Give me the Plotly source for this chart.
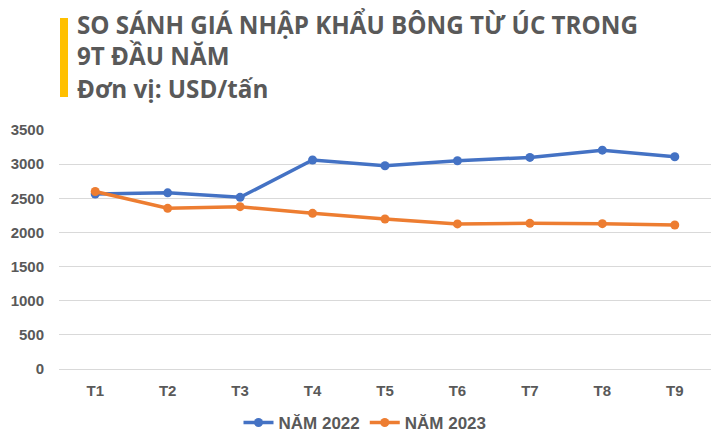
import plotly.graph_objects as go

months = ["T1", "T2", "T3", "T4", "T5", "T6", "T7", "T8", "T9"]
y2022 = [2562, 2580, 2514, 3060, 2977, 3050, 3099, 3205, 3108]
y2023 = [2600, 2353, 2377, 2280, 2196, 2125, 2133, 2128, 2108]
yticks = [0, 500, 1000, 1500, 2000, 2500, 3000, 3500]

# page body has an 8px margin: figure sits at (8, 8) in the window
OFF = 8
W, H = 727 - OFF, 434 - OFF
L, R, T, B = 59 - OFF, 16, 130 - OFF, 65
PW, PH = W - L - R, H - T - B


def px_x(x):
    return (x - OFF - L) / PW


def px_y(y):
    return (H - B - (y - OFF)) / PH


fig = go.Figure()
fig.add_trace(go.Scatter(x=months, y=y2022, name="NĂM 2022", mode="lines+markers",
                         line=dict(color="#4472C4", width=3.5),
                         marker=dict(size=9, color="#4472C4")))
fig.add_trace(go.Scatter(x=months, y=y2023, name="NĂM 2023", mode="lines+markers",
                         line=dict(color="#ED7D31", width=3.5),
                         marker=dict(size=9, color="#ED7D31")))

title_font = dict(family="Open Sans", size=24.2, color="#595959", weight="bold")

fig.update_layout(
    width=W, height=H,
    margin=dict(l=L, r=R, t=T, b=B),
    paper_bgcolor="white", plot_bgcolor="white",
    font=dict(family="Open Sans", color="#595959"),
    showlegend=True,
    legend=dict(orientation="h", x=(365 - OFF) / W, xanchor="center", xref="container",
                y=(H - (423 - OFF)) / H, yanchor="middle", yref="container",
                font=dict(family="Liberation Sans", size=17, color="#595959", weight="bold"),
                itemwidth=30),
    xaxis=dict(showgrid=False, showline=True, linecolor="#D9D9D9", linewidth=1,
               ticks="", automargin=False, ticklabelstandoff=8,
               tickfont=dict(family="Liberation Sans", size=15, color="#595959", weight="bold"),
               range=[-0.5, 8.5]),
    yaxis=dict(range=[0, 3500], tickvals=yticks, showgrid=True, gridcolor="#D9D9D9",
               zeroline=False, ticks="", ticklabelstandoff=14, automargin=False,
               tickfont=dict(family="Liberation Sans", size=15, color="#595959", weight="bold")),
    shapes=[dict(type="rect", xref="paper", yref="paper",
                 x0=px_x(60), x1=px_x(68), y0=px_y(97), y1=px_y(18),
                 fillcolor="#FFC000", line=dict(width=0))],
    annotations=[
        dict(text="SO SÁNH GIÁ NHẬP KHẨU BÔNG TỪ ÚC TRONG<br>9T ĐẦU NĂM",
             xref="paper", yref="paper", x=px_x(76), y=px_y(40),
             xanchor="left", yanchor="middle", align="left", showarrow=False,
             borderpad=0, font=title_font),
        dict(text="Đơn vị: USD/tấn",
             xref="paper", yref="paper", x=px_x(76), y=px_y(88),
             xanchor="left", yanchor="middle", showarrow=False,
             borderpad=0, font=title_font),
    ],
)

fig.write_html("out.html")
